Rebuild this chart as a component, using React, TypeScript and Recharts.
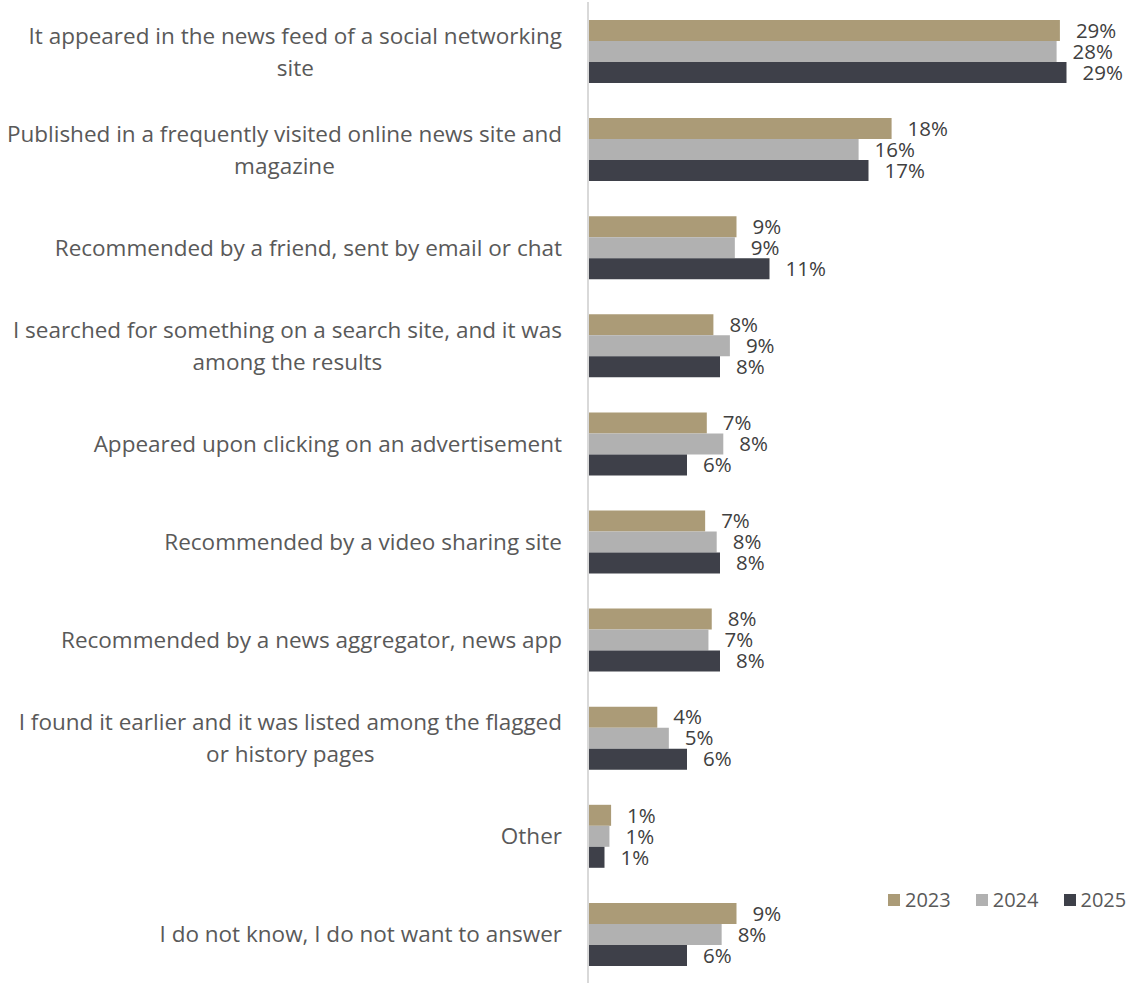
import { BarChart, Bar, XAxis, YAxis, Legend, LabelList } from 'recharts';

// Categories (line breaks follow the original wrapping)
const categories = [
  'It appeared in the news feed of a social networking\nsite',
  'Published in a frequently visited online news site and\nmagazine',
  'Recommended by a friend, sent by email or chat',
  'I searched for something on a search site, and it was\namong the results',
  'Appeared upon clicking on an advertisement',
  'Recommended by a video sharing site',
  'Recommended by a news aggregator, news app',
  'I found it earlier and it was listed among the flagged\nor history pages',
  'Other',
  'I do not know, I do not want to answer',
];

const years = ['2023', '2024', '2025'];
const values2023 = [28.6, 18.4, 9.0, 7.6, 7.2, 7.1, 7.5, 4.2, 1.4, 9.0];
const values2024 = [28.4, 16.4, 8.9, 8.6, 8.2, 7.8, 7.3, 4.9, 1.3, 8.1];
const values2025 = [29.0, 17.0, 11.0, 8.0, 6.0, 8.0, 8.0, 6.0, 1.0, 6.0];

const colors = ['#ab9b77', '#b1b1b1', '#3e4049'];
const FONT = '"Open Sans", sans-serif';
const FS = 20.5; // data labels
const LEG_FS = 20;
const CAT_FS = 22.5; // category labels

const data = categories.map((name, i) => ({
  name,
  y2023: values2023[i],
  y2024: values2024[i],
  y2025: values2025[i],
}));

let ctx: CanvasRenderingContext2D | null = null;
function textWidth(s: string) {
  if (!ctx) {
    ctx = document.createElement('canvas').getContext('2d');
  }
  if (!ctx) return s.length * 11;
  ctx.font = `${CAT_FS}px "Open Sans"`;
  return ctx.measureText(s).width;
}

// wrapped labels: block right-aligned to the axis, lines centred inside it
function CategoryTick(props: any) {
  const { x, y, payload } = props;
  const lines: string[] = String(payload.value).split('\n');
  const lh = 32;
  const blockW = Math.max(...lines.map(textWidth));
  const cx = x - blockW / 2;
  return (
    <text x={cx} y={y} textAnchor="middle" fill="#595959" fontSize={CAT_FS} fontFamily={FONT}>
      {lines.map((l, i) => (
        <tspan key={i} x={cx} y={y + (i - (lines.length - 1) / 2) * lh} dominantBaseline="central">
          {l}
        </tspan>
      ))}
    </text>
  );
}

function renderLegend() {
  return (
    <div style={{ display: 'flex', fontFamily: FONT, fontSize: LEG_FS, color: '#595959' }}>
      {years.map((y, i) => (
        <div key={y} style={{ display: 'flex', alignItems: 'center', marginRight: 25 }}>
          <span style={{ width: 12, height: 12, background: colors[i], marginRight: 5, display: 'inline-block' }} />
          <span>{y}</span>
        </div>
      ))}
    </div>
  );
}

const pct = (v: number) => `${Math.round(v)}%`;

export default function App() {
  return (
    <div style={{ position: 'absolute', left: 0, top: 0, background: '#fff' }}>
      <BarChart
        width={1126}
        height={983}
        data={data}
        layout="vertical"
        margin={{ top: 2, right: 10, bottom: 0, left: 0 }}
        barGap={0}
        barSize={21}
      >
        <XAxis type="number" domain={[0, 32]} hide />
        <YAxis
          type="category"
          dataKey="name"
          width={588}
          tickLine={false}
          tickSize={0}
          tickMargin={26}
          axisLine={{ stroke: '#d9d9d9', strokeWidth: 2 }}
          tick={<CategoryTick />}
          interval={0}
        />
        <Legend
          content={renderLegend}
          layout="horizontal"
          verticalAlign="middle"
          align="center"
          wrapperStyle={{ position: 'absolute', left: 888, top: 886, width: 238 }}
        />
        <Bar dataKey="y2023" name="2023" fill={colors[0]} isAnimationActive={false}>
          <LabelList dataKey="y2023" position="right" offset={16} formatter={pct} fill="#404040" fontSize={FS} fontFamily={FONT} />
        </Bar>
        <Bar dataKey="y2024" name="2024" fill={colors[1]} isAnimationActive={false}>
          <LabelList dataKey="y2024" position="right" offset={16} formatter={pct} fill="#404040" fontSize={FS} fontFamily={FONT} />
        </Bar>
        <Bar dataKey="y2025" name="2025" fill={colors[2]} isAnimationActive={false}>
          <LabelList dataKey="y2025" position="right" offset={16} formatter={pct} fill="#404040" fontSize={FS} fontFamily={FONT} />
        </Bar>
      </BarChart>
    </div>
  );
}
